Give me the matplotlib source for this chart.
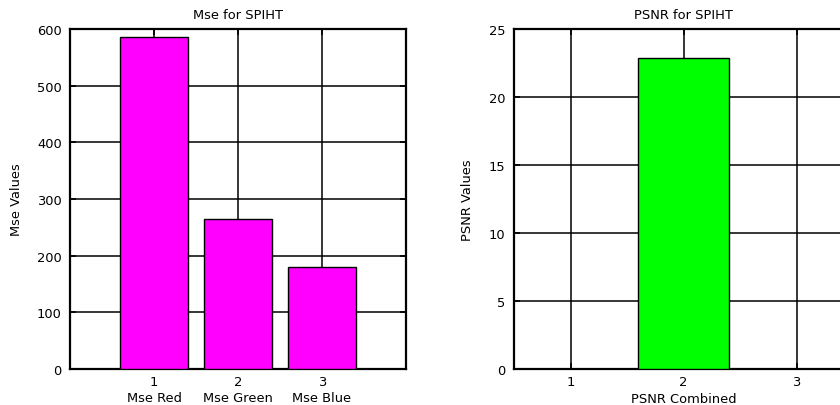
import matplotlib
matplotlib.use("Agg")
import matplotlib.pyplot as plt

# Data
mse_positions = [1, 2, 3]
mse_values = [586, 264, 179.5]
mse_labels = ["1\nMse Red", "2\nMse Green", "3\nMse Blue"]
mse_yticks = [0, 100, 200, 300, 400, 500, 600]

psnr_positions = [2]
psnr_values = [22.85]
psnr_xticks = [1, 2, 3]
psnr_yticks = [0, 5, 10, 15, 20, 25]

FS = 9.4
plt.rcParams['font.family'] = ['DejaVu Sans']
plt.rcParams['font.size'] = FS

fig = plt.figure(figsize=(8.4, 4.06), dpi=100)
W, H = 840, 406

def style(ax):
    for s in ax.spines.values():
        s.set_linewidth(1.6)
        s.set_color('black')
    ax.tick_params(direction='in', length=4, width=1.2, top=True, right=True,
                   labelsize=FS)
    ax.tick_params(axis='y', pad=6)
    ax.tick_params(axis='x', pad=4)
    ax.grid(True, color='black', linewidth=1.1)
    ax.set_axisbelow(True)

# Left axes
ax1 = fig.add_axes([70 / W, (H - 370) / H, 336 / W, 340 / H])
ax1.bar(mse_positions, mse_values, width=0.8, color='#ff00ff', edgecolor='black',
        linewidth=1.0, zorder=3)
ax1.set_xlim(0, 4)
ax1.set_ylim(0, 600)
ax1.set_xticks(mse_positions)
ax1.set_xticklabels(mse_labels, linespacing=1.3)
ax1.set_yticks(mse_yticks)
ax1.set_title("Mse for SPIHT", fontsize=FS, pad=8)
ax1.set_ylabel("Mse Values", fontsize=FS, labelpad=10)
style(ax1)

# Right axes (extends past figure edge)
ax2 = fig.add_axes([514 / W, (H - 370) / H, 339 / W, 340 / H])
ax2.bar(psnr_positions, psnr_values, width=0.8, color='#00ff00', edgecolor='black',
        linewidth=1.0, zorder=3)
ax2.set_xlim(0.5, 3.5)
ax2.set_ylim(0, 25)
ax2.set_xticks(psnr_xticks)
ax2.set_yticks(psnr_yticks)
ax2.set_title("PSNR for SPIHT", fontsize=FS, pad=8)
ax2.set_ylabel("PSNR Values", fontsize=FS, labelpad=11)
ax2.set_xlabel("PSNR Combined", fontsize=FS, labelpad=3)
style(ax2)

fig.savefig("out.png", dpi=100)
